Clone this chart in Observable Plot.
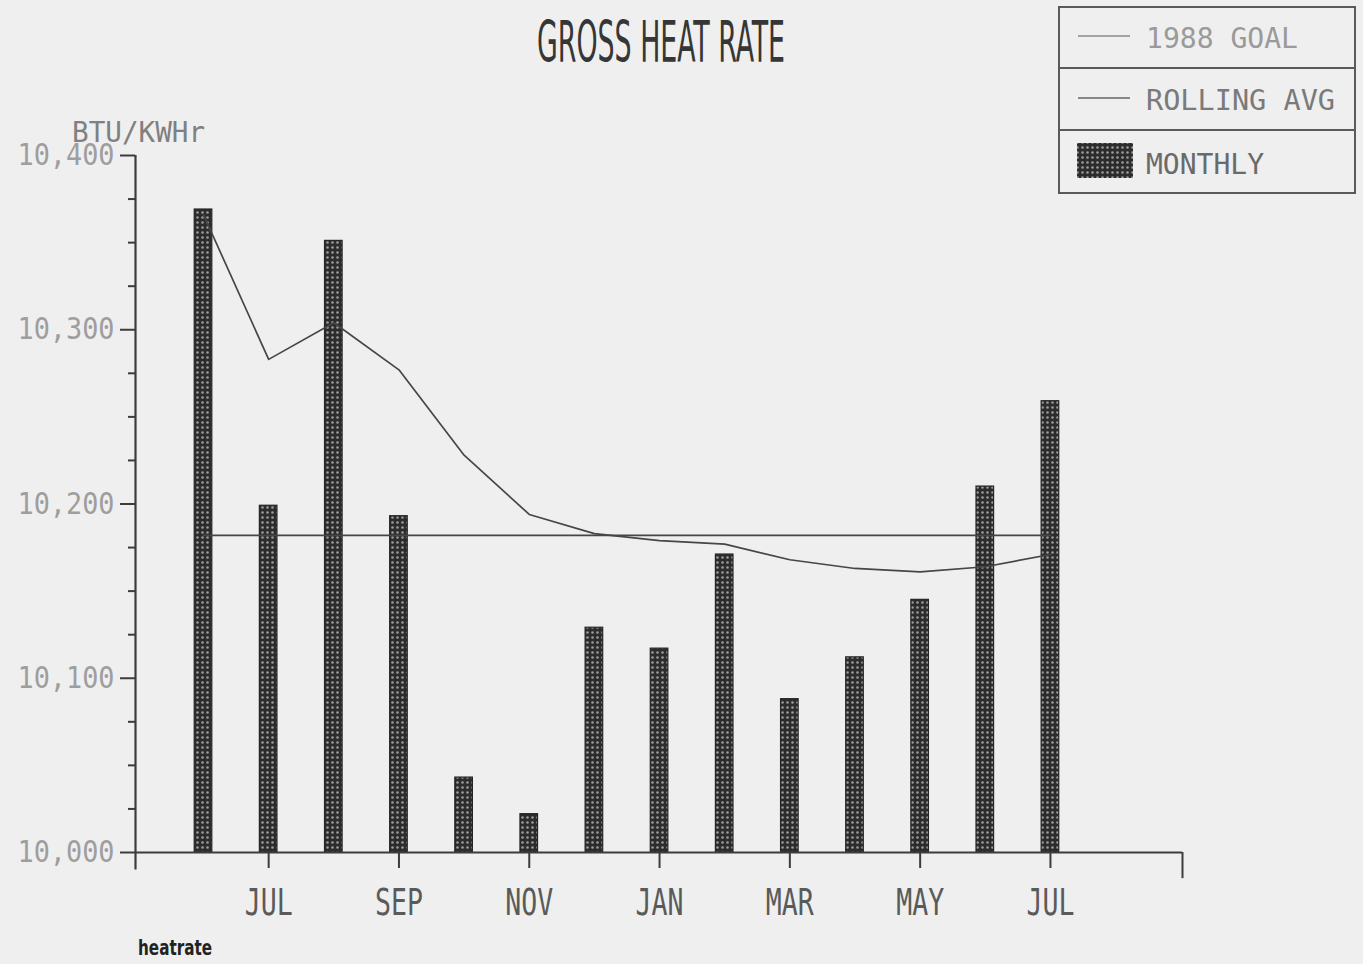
<!DOCTYPE html>
<html><head><meta charset="utf-8">
<script src="https://cdn.jsdelivr.net/npm/d3@7"></script>
<script src="https://cdn.jsdelivr.net/npm/@observablehq/plot@0.6"></script>
<style>
html,body{margin:0;padding:0;background:#efefef;overflow:hidden}
#wrap{position:relative;width:1363px;height:964px}
#chart{position:absolute;left:0;top:0}
#overlay{position:absolute;left:0;top:0}
</style></head><body>
<div id="wrap"><div id="chart"></div><svg id="overlay" width="1363" height="964"></svg></div>
<script>
// ---- data ----
const months = ["JUN","JUL","AUG","SEP","OCT","NOV","DEC","JAN","FEB","MAR","APR","MAY","JUN","JUL"];
const monthly = [10369,10199,10351,10193,10043,10022,10129,10117,10171,10088,10112,10145,10210,10259];
const rollingAvg = [10366,10283,10304,10277,10228,10194,10183,10179,10177,10168,10163,10161,10164,10171];
const goal1988 = 10182;
const yTicks = [10000,10100,10200,10300,10400];
const yMinorTicks = [10025,10050,10075,10125,10150,10175,10225,10250,10275,10325,10350,10375];
const xTickIndex = [1,3,5,7,9,11,13];
const title = "GROSS HEAT RATE";
const yUnit = "BTU/KWHr";
const legendLabels = ["1988 GOAL","ROLLING AVG","MONTHLY"];
const caption = "heatrate";

const rows = months.map((m,i)=>({i, month:m, monthly:monthly[i], avg:rollingAvg[i], goal:goal1988}));

const xDom = [-1.044, 15.027];
const ink = "#464646";

const chart = Plot.plot({
  width:1363, height:964,
  marginLeft:135, marginRight:181, marginTop:155, marginBottom:112,
  style:{background:"transparent", fontFamily:"DejaVu Sans Mono", overflow:"visible"},
  x:{type:"linear", domain:xDom, axis:null},
  y:{domain:[10000,10400], axis:null},
  marks:[
    Plot.rectY(rows,{x1:d=>d.i-0.135, x2:d=>d.i+0.135, y1:10000, y2:"monthly", fill:"#333", stroke:"#262626", strokeWidth:1.2}),
    Plot.lineY(rows,{x:"i", y:"goal", stroke:ink, strokeWidth:1.7}),
    Plot.lineY(rows,{x:"i", y:"avg", stroke:ink, strokeWidth:1.7, curve:"linear"}),
    Plot.ruleY([10000],{stroke:"#3c3c3c", strokeWidth:2.2}),
    Plot.ruleX([xDom[0]],{y1:9990, y2:10400, stroke:"#3c3c3c", strokeWidth:2.2}),
    Plot.ruleX([xDom[1]],{y1:9985, y2:10000, stroke:"#3c3c3c", strokeWidth:2}),
    Plot.axisY(yTicks,{tickSize:15, tickPadding:6, tickFormat:d3.format(","), stroke:"#3c3c3c", strokeWidth:2, label:null}),
    Plot.axisY(yMinorTicks,{tickSize:7, tickFormat:()=>"", stroke:"#3c3c3c", strokeWidth:2, label:null}),
    Plot.axisX(xTickIndex,{tickSize:16, tickPadding:20, tickFormat:i=>months[i], stroke:"#3c3c3c", strokeWidth:2, label:null})
  ]
});
document.getElementById("chart").appendChild(chart);

const svg = d3.select(chart);
function addDots(sel, id){
  const defs = sel.insert("defs",":first-child");
  const p = defs.append("pattern").attr("id",id).attr("patternUnits","userSpaceOnUse").attr("width",5).attr("height",5);
  p.append("rect").attr("width",5).attr("height",5).attr("fill","#2c2c2c");
  p.append("circle").attr("cx",2.5).attr("cy",2.5).attr("r",1.3).attr("fill","#9c9c9c");
}
addDots(svg,"dots");
svg.selectAll("g[aria-label='rect']").attr("fill","url(#dots)");

svg.selectAll("g[aria-label='y-axis tick label']").attr("fill","#9e9e9e").attr("font-size",30);
svg.selectAll("g[aria-label='y-axis tick label'] text")
  .attr("textLength",97).attr("lengthAdjust","spacingAndGlyphs");
svg.selectAll("g[aria-label='x-axis tick label']").attr("fill","#5a5a5a").attr("font-size",37);
svg.selectAll("g[aria-label='x-axis tick label'] text")
  .attr("textLength",48).attr("lengthAdjust","spacingAndGlyphs");

// ---- overlay: title, unit, legend, caption ----
const ov = d3.select("#overlay");
addDots(ov,"dots2");
function txt(s,x,y,size,len,fill,family,weight,anchor){
  return ov.append("text").text(s).attr("x",x).attr("y",y).attr("font-size",size)
    .attr("font-family",family||"DejaVu Sans Mono").attr("font-weight",weight||"normal")
    .attr("fill",fill).attr("text-anchor",anchor||"start")
    .attr("textLength",len).attr("lengthAdjust","spacingAndGlyphs");
}
txt(title,661,62,57,248,"#363636","DejaVu Sans Condensed","normal","middle");
txt(yUnit,72,142,28,133,"#808080");
txt(caption,138,955,22,74,"#222","DejaVu Sans Condensed","bold");

// legend box
ov.append("rect").attr("x",1059).attr("y",7).attr("width",296).attr("height",186)
  .attr("fill","none").attr("stroke","#5a5a5a").attr("stroke-width",2);
ov.append("line").attr("x1",1059).attr("x2",1355).attr("y1",68).attr("y2",68).attr("stroke","#5a5a5a").attr("stroke-width",2);
ov.append("line").attr("x1",1059).attr("x2",1355).attr("y1",130).attr("y2",130).attr("stroke","#5a5a5a").attr("stroke-width",2);
ov.append("line").attr("x1",1078).attr("x2",1130).attr("y1",36).attr("y2",36).attr("stroke","#8a8a8a").attr("stroke-width",1.6);
ov.append("line").attr("x1",1078).attr("x2",1130).attr("y1",98).attr("y2",98).attr("stroke","#666").attr("stroke-width",1.6);
ov.append("rect").attr("x",1077).attr("y",143).attr("width",56).attr("height",35).attr("fill","url(#dots2)");
txt(legendLabels[0],1146,48,29,152,"#9a9a9a");
txt(legendLabels[1],1146,110,29,189,"#7a7a7a");
txt(legendLabels[2],1146,174,29,118,"#6a6a6a");
</script>
</body></html>
